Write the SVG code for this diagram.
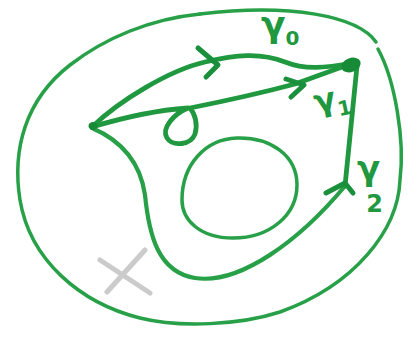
<svg xmlns="http://www.w3.org/2000/svg" width="409" height="342" viewBox="0 0 409 342">
<style>
.g{fill:none;stroke:#27a048;stroke-linecap:round;stroke-linejoin:round}
.thin{stroke-width:3.5}
.mid{stroke-width:4.2}
.thick{stroke-width:4.8;stroke:#1f9840}
.arr{fill:none;stroke:#1a8f3c;stroke-width:5;stroke-linecap:round;stroke-linejoin:round}
.lbl{fill:#1f9840;font-family:"DejaVu Sans",sans-serif;font-weight:bold}
.dot{fill:#178a37}
</style>
<rect width="409" height="342" fill="#ffffff"/>
<g id="outer-boundary">
<path class="g thin" d="M200,14 C290,3 358,16 376,42"/>
<path class="g thin" d="M378,49 C395,80 405,140 400,180 C398,230 355,285 280,312 C240,325 180,328 140,318 C80,303 30,260 20,200 C12,150 25,100 70,65 C105,38 150,19 200,14"/>
</g>
<g id="region">
<path class="g mid" d="M92,128 C120,140 140,160 145,195 C149,235 158,272 195,278 C240,285 300,240 345,186"/>
</g>
<g id="hole">
<path class="g thin" d="M237,138 C270,137 297,155 297,185 C297,215 270,238 233,238 C200,238 182,220 182,200 C182,165 205,139 237,138 Z"/>
<path d="M270,149 L281,156" stroke="#ffffff" stroke-width="1.6" stroke-linecap="round"/>
</g>
<g id="connectors">
<path id="gamma0" class="g thick" d="M92,127 C120,100 170,70 205,62 C235,55 260,52 285,62 C305,70 325,68 353,63"/>
<path id="gamma1" class="g thick" d="M92,127 C125,117 160,110 188,108 C174,114 161,128 167,138 C173,147 191,145 195,134 C198,124 195,114 190,108 C230,100 265,92 295,84 L353,63"/>
<path id="gamma2" class="g thick" d="M345,186 L357,66"/>
<path class="arr" d="M198,48 L218,65 L206,77"/>
<path class="arr" d="M286,79 L304,85 L291,97"/>
<path class="arr" d="M326,193 L345,183 L353,193"/>
</g>
<g id="vertex-start"><ellipse class="dot" cx="93" cy="126" rx="4.5" ry="4"/></g>
<g id="vertex-end"><ellipse class="dot" cx="351" cy="65" rx="10" ry="7" transform="rotate(-20 351 65)"/></g>
<g id="labels">
<text class="lbl" x="261" y="37" font-size="36">γ<tspan font-size="20" dy="8">0</tspan></text>
<text class="lbl" x="315" y="110" font-size="32" transform="rotate(-12 330 105)">γ<tspan font-size="20" dy="8">1</tspan></text>
<text class="lbl" x="357" y="180" font-size="34">γ<tspan font-size="24" dx="-14" dy="32">2</tspan></text>
</g>
<g id="x-mark" stroke="#c6c6c6" stroke-width="5" stroke-linecap="round" opacity="0.9">
<path d="M100,260 L150,293"/>
<path d="M145,250 L107,292"/>
</g>
</svg>
